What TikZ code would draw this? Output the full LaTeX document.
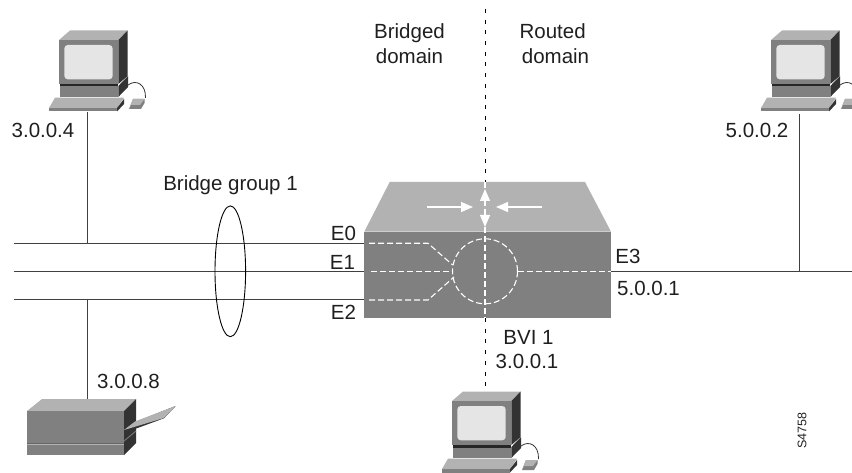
\documentclass[tikz,border=0pt]{standalone}
\usepackage{fontspec}
\usetikzlibrary{arrows.meta}
\setmainfont{Liberation Sans}
\definecolor{ctop}{gray}{0.70}
\definecolor{cfront}{gray}{0.50}
\definecolor{cside}{gray}{0.20}
\definecolor{cscreen}{gray}{0.90}
\definecolor{cline}{gray}{0.25}
\tikzset{
  x=1pt,y=-1pt,
  lbl/.style={font=\fontsize{20.5}{24}\selectfont,inner sep=0pt,text=black!88,align=center},
  wire/.style={draw=cline,line width=0.9pt},
  bdash/.style={draw=black,line width=0.9pt,dash pattern=on 4pt off 6.7pt},
  wdash/.style={draw=white,line width=1.1pt,dash pattern=on 6pt off 3pt},
  warrow/.style={draw=white,line width=1.1pt,-{Triangle[length=12pt,width=10pt,fill=white]}},
  pics/workstation/.style={code={
    % cable + mouse
    \draw[cside,line width=0.8pt] (128,85) .. controls (136,79) and (146,84) .. (145.5,98);
    \fill[cfront] (129,109) -- (133,99) -- (144.5,99) -- (144.5,103) -- (141,109) -- cycle;
    \fill[ctop] (129,109) -- (133,99) -- (144.5,99) -- (140,105) -- (131,105) -- cycle;
    % base
    \fill[cside] (118.3,86) -- (128,76) -- (128,87) -- (118.3,97) -- cycle;
    \fill[black!85] (60,84) rectangle (118.3,86.5);
    \fill[cfront] (60,86.5) rectangle (118.3,97);
    % monitor
    \fill[ctop] (59,40) -- (70,30.5) -- (127.7,30.5) -- (118.3,40) -- cycle;
    \fill[cside] (118.3,40) -- (127.7,30.5) -- (127.7,76) -- (118.3,84) -- cycle;
    \fill[cfront] (59,40) rectangle (118.3,84);
    \fill[cscreen,rounded corners=3.5pt] (64.3,45) rectangle (112.7,79.3);
    % keyboard
    \fill[ctop] (49,108) -- (55,97.7) -- (124,97.7) -- (117,108) -- cycle;
    \fill[cfront] (49,108) rectangle (117,111.5);
    \fill[cside] (117,108) -- (124,99) -- (124,104) -- (117,111.5) -- cycle;
  }}
}
\begin{document}
\begin{tikzpicture}
\useasboundingbox (0,0) rectangle (852,473);
% named connector ends
\coordinate (lz0) at (14,243.3); \coordinate (lz1) at (14,271.5); \coordinate (lz2) at (14,299.7);
\coordinate (r0) at (364.3,243.3); \coordinate (r1) at (364.3,271.5); \coordinate (r2) at (364.3,299.7);
\coordinate (r3) at (611,271.5); \coordinate (rz) at (852,271.5);
\coordinate (pcA) at (87,112); \coordinate (tapA) at (87,243.3);
\coordinate (pcB) at (799,114); \coordinate (tapB) at (799,271.5);
\coordinate (prn) at (87,399); \coordinate (tapP) at (87,299.7);
\coordinate (vt) at (485,9); \coordinate (vtb) at (485,182);
\coordinate (vb) at (485,318); \coordinate (vbb) at (485,387);
% computers
\begin{scope}
  \clip (0,0) rectangle (852,473);
  \pic {workstation};
  \pic[shift={(712,0)}] {workstation};
  \pic[shift={(393,361)}] {workstation};
\end{scope}
% connectors
\draw[wire] (lz0) -- (r0);
\draw[wire] (lz1) -- (r1);
\draw[wire] (lz2) -- (r2);
\draw[wire] (r3) -- (rz);
\draw[wire] (pcA) -- (tapA);
\draw[wire] (pcB) -- (tapB);
\draw[wire] (tapP) -- (prn);
\draw[bdash] (vt) -- (vtb);
\draw[bdash] (vb) -- (vbb);
% ellipse
\draw[black,line width=0.9pt] (230.3,271.3) ellipse [x radius=15.3,y radius=65.4];
% printer
\fill[ctop] (27,411) -- (42,399) -- (136,399) -- (124,411) -- cycle;
\fill[cside] (124,411) -- (136,399) -- (136,443) -- (124,455) -- cycle;
\fill[cfront] (27,411) rectangle (124,455);
\draw[black!60,line width=0.8pt] (27,443) -- (124,443);
\draw[ctop,line width=0.8pt] (27,444) -- (124,444);
\draw[cfront,line width=0.8pt] (124,441) -- (136,431);
\fill[cside] (124,431) -- (135,422) -- (175.7,406) -- (164,418.3) -- (124,433) -- cycle;
\fill[ctop] (124,430) -- (135,421.5) -- (175.7,406) -- (164,418) -- cycle;
% router
\fill[ctop] (364.3,231.7) -- (389.7,182) -- (585,182) -- (611,231.7) -- cycle;
\fill[cfront] (364.3,231.7) rectangle (611,317.7);
% white dashed paths
\draw[wdash] (369,243.3) -- (428,243.3) -- (452.7,265);
\draw[wdash] (371,271.3) -- (452,271.3);
\draw[wdash] (369,300) -- (428,300) -- (454,277);
\draw[wdash] (485,271.3) circle [radius=32.5];
\draw[wdash] (517.5,271.3) -- (611,271.3);
\draw[wdash] (485,182) -- (485,318);
% white arrows
\draw[warrow] (427,207) -- (473,207);
\draw[warrow] (542,207) -- (496,207);
\draw[warrow] (485,205) -- (485,189);
\draw[warrow] (485,209) -- (485,227);
% labels
\node[lbl] (tA) at (43,130) {3.0.0.4};
\node[lbl] (tB) at (757,130) {5.0.0.2};
\node[lbl] (tP) at (128.5,381) {3.0.0.8};
\node[lbl,anchor=base] (tBG) at (230.5,191) {Bridge group 1};
\node[lbl,anchor=base] (tBD) at (409.5,38.5) {Bridged};
\node[lbl,anchor=base] (tBD2) at (409.5,64) {domain};
\node[lbl,anchor=base] (tRD) at (552.7,38.5) {Routed};
\node[lbl,anchor=base] (tRD2) at (555.5,64) {domain};
\node[lbl] (tE0) at (343.5,233) {E0};
\node[lbl] (tE1) at (342.5,262) {E1};
\node[lbl] (tE2) at (343.5,312.5) {E2};
\node[lbl] (tE3) at (628,256) {E3};
\node[lbl] (t5) at (648.5,288) {5.0.0.1};
\node[lbl] (tBVI) at (528.5,337) {BVI 1};
\node[lbl] (t3) at (527,361) {3.0.0.1};
\node[lbl,font=\fontsize{12.5}{15}\selectfont,rotate=90] (tS) at (802,430.5) {S4758};
\end{tikzpicture}
\end{document}
